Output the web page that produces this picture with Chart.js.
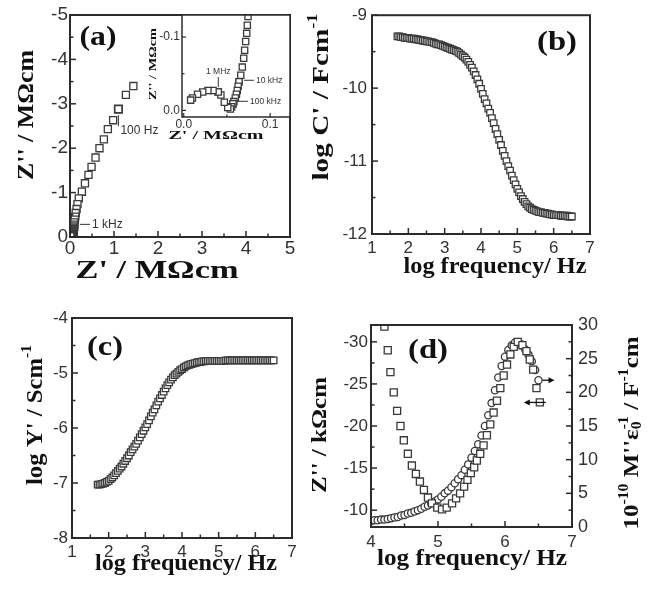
<!DOCTYPE html>
<html>
<head>
<meta charset="utf-8">
<title>Impedance spectra</title>
<script src="https://cdn.jsdelivr.net/npm/chart.js@4.4.1/dist/chart.umd.min.js"></script>
<style>
  body { margin: 0; background: #fff; }
  #fig { position: relative; width: 649px; height: 589px; overflow: hidden; }
  #fig canvas { position: absolute; left: 0; top: 0; }
</style>
</head>
<body>
<div id="fig">
  <canvas id="nyquist" width="649" height="589"></canvas>
  <canvas id="nyquistZoom" width="649" height="589"></canvas>
  <canvas id="capacitance" width="649" height="589"></canvas>
  <canvas id="admittance" width="649" height="589"></canvas>
  <canvas id="modulus" width="649" height="589"></canvas>
</div>
<script>
'use strict';

// (a) complex impedance, MOhm cm, lowest frequency first
let nyqRe = [1.44, 1.27, 1.10, 0.98, 0.86, 0.77, 0.67, 0.58, 0.49, 0.42, 0.34, 0.27, 0.20, 0.17, 0.15, 0.13, 0.12, 0.11, 0.10, 0.095,
  0.090, 0.086, 0.083, 0.080, 0.078, 0.076, 0.0744, 0.0736, 0.0729, 0.0717, 0.0705, 0.0694, 0.0678, 0.066, 0.064, 0.063, 0.062, 0.061,
  0.0597, 0.058, 0.057, 0.0555, 0.054, 0.051, 0.047, 0.043, 0.040, 0.034, 0.028, 0.022, 0.016, 0.010, 0.008];
let nyqIm = [-3.40, -3.20, -2.88, -2.63, -2.43, -2.20, -2.00, -1.79, -1.58, -1.40, -1.21, -1.02, -0.87, -0.74, -0.63, -0.54, -0.46, -0.39, -0.33, -0.28,
  -0.24, -0.21, -0.185, -0.165, -0.148, -0.138, -0.128, -0.116, -0.105, -0.094, -0.082, -0.071, -0.059, -0.048, -0.039, -0.033, -0.027, -0.022,
  -0.017, -0.012, -0.009, -0.005, -0.002, -0.004, -0.011, -0.021, -0.025, -0.027, -0.027, -0.025, -0.022, -0.017, -0.014];
// frequency markers: index into the arrays above
let mainMarks = [2, 20];
let mainMarkNames = ['100 Hz', '1 kHz'];
let zoomMarks = [34, 40, 46];
let zoomMarkNames = ['10 kHz', '100 kHz', '1 MHz'];

// (b) and (c) share the frequency grid, 20 points per decade
let logF = [1.70, 1.75, 1.80, 1.85, 1.90, 1.95, 2.00, 2.05, 2.10, 2.15, 2.20, 2.25, 2.30, 2.35, 2.40, 2.45, 2.50, 2.55, 2.60, 2.65,
  2.70, 2.75, 2.80, 2.85, 2.90, 2.95, 3.00, 3.05, 3.10, 3.15, 3.20, 3.25, 3.30, 3.35, 3.40, 3.45, 3.50, 3.55, 3.60, 3.65,
  3.70, 3.75, 3.80, 3.85, 3.90, 3.95, 4.00, 4.05, 4.10, 4.15, 4.20, 4.25, 4.30, 4.35, 4.40, 4.45, 4.50, 4.55, 4.60, 4.65,
  4.70, 4.75, 4.80, 4.85, 4.90, 4.95, 5.00, 5.05, 5.10, 5.15, 5.20, 5.25, 5.30, 5.35, 5.40, 5.45, 5.50, 5.55, 5.60, 5.65,
  5.70, 5.75, 5.80, 5.85, 5.90, 5.95, 6.00, 6.05, 6.10, 6.15, 6.20, 6.25, 6.30, 6.35, 6.40, 6.45, 6.50];
let logC = [-9.29, -9.29, -9.30, -9.30, -9.31, -9.31, -9.31, -9.32, -9.32, -9.32, -9.33, -9.33, -9.34, -9.34, -9.35, -9.35, -9.36, -9.36, -9.37, -9.37,
  -9.38, -9.39, -9.40, -9.40, -9.41, -9.42, -9.43, -9.44, -9.45, -9.46, -9.47, -9.48, -9.49, -9.50, -9.52, -9.54, -9.56, -9.58, -9.61, -9.64,
  -9.68, -9.72, -9.77, -9.82, -9.88, -9.94, -10.01, -10.08, -10.15, -10.21, -10.28, -10.34, -10.41, -10.48, -10.56, -10.63, -10.71, -10.78, -10.86, -10.93,
  -11.00, -11.07, -11.13, -11.20, -11.26, -11.32, -11.38, -11.43, -11.48, -11.52, -11.56, -11.59, -11.62, -11.64, -11.66, -11.67, -11.68, -11.69, -11.70, -11.70,
  -11.71, -11.71, -11.72, -11.72, -11.73, -11.73, -11.74, -11.74, -11.74, -11.74, -11.75, -11.75, -11.75, -11.75, -11.76, -11.76, -11.76];
let logY = [-7.03, -7.03, -7.02, -7.01, -7.00, -6.98, -6.96, -6.93, -6.90, -6.86, -6.82, -6.78, -6.74, -6.70, -6.65, -6.60, -6.55, -6.50, -6.44, -6.39,
  -6.34, -6.29, -6.23, -6.17, -6.11, -6.05, -5.99, -5.93, -5.86, -5.79, -5.72, -5.66, -5.59, -5.52, -5.46, -5.40, -5.34, -5.28, -5.22, -5.17,
  -5.12, -5.08, -5.04, -5.01, -4.98, -4.95, -4.93, -4.90, -4.88, -4.86, -4.85, -4.84, -4.83, -4.82, -4.81, -4.80, -4.80, -4.79, -4.79, -4.78,
  -4.78, -4.78, -4.78, -4.78, -4.78, -4.78, -4.78, -4.78, -4.78, -4.78, -4.77, -4.77, -4.77, -4.77, -4.77, -4.77, -4.77, -4.77, -4.77, -4.77,
  -4.77, -4.77, -4.77, -4.77, -4.77, -4.77, -4.77, -4.77, -4.77, -4.77, -4.77, -4.77, -4.77, -4.77, -4.77, -4.77, -4.77];

// (d) Z'' (kOhm cm) and M''/eps0 (1e-10 F^-1 cm)
let zLogF = [4.20, 4.25, 4.29, 4.34, 4.39, 4.44, 4.49, 4.55, 4.61, 4.67, 4.73, 4.79, 4.85, 4.91, 4.99, 5.06, 5.13, 5.21, 5.27, 5.33, 5.39,
  5.44, 5.49, 5.54, 5.58, 5.63, 5.68, 5.73, 5.78, 5.83, 5.88, 5.93, 5.98, 6.03, 6.08, 6.13, 6.19, 6.26, 6.32, 6.37, 6.42, 6.47, 6.52];
let zImag = [-31.8, -29.0, -26.4, -24.0, -21.8, -20.0, -18.3, -16.7, -15.3, -14.3, -13.4, -12.4, -11.5, -10.8, -10.3, -10.1, -10.3, -10.8,
  -11.4, -12.0, -12.8, -13.6, -14.4, -15.1, -15.9, -16.7, -17.7, -18.9, -20.2, -21.6, -23.0, -24.5, -26.0, -27.3, -28.5, -29.4, -30.0,
  -29.6, -28.9, -27.9, -26.7, -24.5, -22.8];
let mLogF = [4.00, 4.05, 4.10, 4.15, 4.20, 4.25, 4.30, 4.35, 4.40, 4.45, 4.50, 4.55, 4.60, 4.65, 4.70, 4.75, 4.80, 4.85, 4.90, 4.95, 5.00,
  5.05, 5.10, 5.15, 5.20, 5.25, 5.30, 5.35, 5.40, 5.45, 5.50, 5.55, 5.60, 5.65, 5.70, 5.75, 5.80, 5.85, 5.90, 5.95, 6.00, 6.05, 6.10,
  6.15, 6.20, 6.25, 6.30, 6.35, 6.40, 6.45, 6.50];
let mImag = [0.9, 1.0, 1.0, 1.1, 1.1, 1.2, 1.3, 1.4, 1.5, 1.7, 1.8, 2.0, 2.1, 2.3, 2.5, 2.7, 3.0, 3.2, 3.5, 3.8, 4.1, 4.5, 5.0, 5.4, 5.9,
  6.5, 7.1, 7.7, 8.5, 9.3, 10.3, 11.3, 12.3, 13.6, 15.0, 16.6, 18.4, 20.3, 22.2, 23.9, 25.3, 26.3, 27.0, 27.4, 27.4, 27.1, 26.4, 25.6,
  24.6, 23.3, 21.8];

// labelled ticks; a short tick is added halfway between each pair
let ticksA_x = [0, 1, 2, 3, 4, 5];
let ticksA_y = [-5, -4, -3, -2, -1, 0];
let ticksZoom_x = [0, 0.1];
let ticksZoom_y = [-0.1, 0];
let ticksF = [1, 2, 3, 4, 5, 6, 7];
let ticksB_y = [-12, -11, -10, -9];
let ticksC_y = [-8, -7, -6, -5, -4];
let ticksD_x = [4, 5, 6, 7];
let ticksD_y = [-30, -25, -20, -15, -10];
let ticksD_y2 = [0, 5, 10, 15, 20, 25, 30];

function pts(xs, ys) {
  return xs.map((x, i) => ({x: x, y: ys[i]}));
}
function pick(xs, ys, idx) {
  return idx.map(i => ({x: xs[i], y: ys[i]}));
}

function drawRich(ctx, t) {
  let fam = t.family || 'Liberation Serif';
  let weight = t.bold === false ? '' : 'bold ';
  ctx.save();
  ctx.translate(t.x, t.y);
  if (t.rot) ctx.rotate(t.rot);
  let total = 0;
  let runs = t.parts.map(p => {
    let small = p.sup || p.sub;
    let font = weight + (small ? Math.round(t.size * 0.62) : t.size) + 'px "' + fam + '"';
    ctx.font = font;
    let w = ctx.measureText(p.t).width;
    let adv = p.stay ? 0 : w;
    total += adv;
    return {t: p.t, font: font, adv: adv, dy: p.sup ? -t.size * 0.36 : (p.sub ? t.size * 0.26 : 0)};
  });
  if (t.w) ctx.scale(t.w / total, 1);
  ctx.fillStyle = t.color || '#111';
  ctx.textBaseline = 'middle';
  ctx.textAlign = 'left';
  let x = -total / 2;
  runs.forEach(r => {
    ctx.font = r.font;
    ctx.fillText(r.t, x, r.dy);
    x += r.adv;
  });
  ctx.restore();
}

// frame, inward ticks, frequency notes, axis arrows and titles
const figureBits = {
  id: 'figureBits',
  beforeDatasetsDraw(chart, args, o) {
    if (!o.blank) return;
    let a = chart.chartArea, ctx = chart.ctx;
    ctx.save();
    ctx.fillStyle = '#fff';
    ctx.fillRect(a.left, a.top, a.right - a.left, a.bottom - a.top);
    ctx.restore();
  },
  afterDraw(chart, args, o) {
    let ctx = chart.ctx, a = chart.chartArea;
    ctx.save();
    ctx.strokeStyle = '#2b2b2b';
    ctx.lineWidth = o.frame || 2;
    ctx.strokeRect(a.left, a.top, a.right - a.left, a.bottom - a.top);
    ctx.lineWidth = o.tickWidth || 1.5;
    Object.values(chart.scales).forEach(s => {
      s.ticks.forEach(t => {
        let len = t.big ? o.major : o.minor;
        let p = s.getPixelForValue(t.value);
        ctx.beginPath();
        if (s.position === 'bottom') {
          ctx.moveTo(p, a.bottom); ctx.lineTo(p, a.bottom - len);
        } else if (s.position === 'left') {
          ctx.moveTo(a.left, p); ctx.lineTo(a.left + len, p);
        } else {
          ctx.moveTo(a.right, p); ctx.lineTo(a.right - len, p);
        }
        ctx.stroke();
      });
    });

    ctx.strokeStyle = '#333';
    ctx.fillStyle = '#333';
    ctx.lineWidth = 1;
    (o.notes || []).forEach(n => {
      let el = chart.getDatasetMeta(n.ds).data[n.i];
      ctx.beginPath();
      ctx.moveTo(el.x + n.line[0], el.y + n.line[1]);
      ctx.lineTo(el.x + n.line[2], el.y + n.line[3]);
      ctx.stroke();
      ctx.font = n.size + 'px "Liberation Sans"';
      ctx.textAlign = n.align || 'left';
      ctx.textBaseline = 'middle';
      ctx.fillText(n.text, el.x + n.tx, el.y + n.ty);
    });

    ctx.strokeStyle = '#111';
    ctx.fillStyle = '#111';
    ctx.lineWidth = 1.3;
    (o.arrows || []).forEach(ar => {
      let el = chart.getDatasetMeta(ar.ds).data[ar.i];
      let x0 = el.x + ar.from, x1 = el.x + ar.to, y = el.y;
      let dir = Math.sign(ar.to - ar.from);
      ctx.beginPath();
      ctx.moveTo(x0, y); ctx.lineTo(x1 - dir * 4, y);
      ctx.stroke();
      ctx.beginPath();
      ctx.moveTo(x1, y); ctx.lineTo(x1 - dir * 6, y - 3); ctx.lineTo(x1 - dir * 6, y + 3);
      ctx.closePath();
      ctx.fill();
    });
    ctx.restore();

    (o.texts || []).forEach(t => drawRich(ctx, t));
  }
};
Chart.register(figureBits);

function axis(pos, min, max, major, size, fmt, fontSize, pad, reverse) {
  return {
    type: 'linear', position: pos, min: min, max: max, reverse: !!reverse,
    grid: {display: false, drawTicks: false},
    border: {display: false},
    afterBuildTicks: function (scale) {
      let list = major.map(v => ({value: v, big: true}));
      for (let i = 0; i < major.length - 1; i++) {
        list.push({value: (major[i] + major[i + 1]) / 2, big: false});
      }
      list.sort((p, q) => p.value - q.value);
      scale.ticks = list;
    },
    afterFit: function (scale) {
      if (scale.isHorizontal()) scale.height = size; else scale.width = size;
    },
    ticks: {
      autoSkip: false, maxRotation: 0, padding: pad, color: '#333',
      font: {family: 'Liberation Sans', size: fontSize},
      callback: (v, i, ticks) => ticks[i].big ? fmt(v) : ''
    }
  };
}

function squares(data, r, fill, yAxisID) {
  return {
    data: data, pointStyle: 'rect', pointRadius: r, pointBorderWidth: 1.3,
    pointBorderColor: '#3a3a3a', pointBackgroundColor: fill || '#fff', showLine: false, yAxisID: yAxisID || 'y'
  };
}

function makeChart(id, datasets, scales, padding, bits) {
  return new Chart(document.getElementById(id), {
    type: 'scatter',
    data: {datasets: datasets},
    options: {
      responsive: false, animation: false, events: [],
      layout: {padding: padding},
      plugins: {legend: {display: false}, tooltip: {enabled: false}, figureBits: bits},
      scales: scales
    }
  });
}

const whole = v => String(v);
const oneDec = v => v.toFixed(1);

// (a) Nyquist plot
makeChart('nyquist',
  [squares(pts(nyqRe, nyqIm), 5), squares(pick(nyqRe, nyqIm, mainMarks), 5.5, '#111')],
  {
    x: axis('bottom', 0, 5, ticksA_x, 352, whole, 19, 0),
    y: axis('left', -5, 0, ticksA_y, 70, whole, 19, 2, true)
  },
  {left: 0, top: 15, right: 359, bottom: 0},
  {
    frame: 2, major: 6, minor: 3.5,
    notes: [
      {ds: 1, i: 0, text: mainMarkNames[0], tx: 2, ty: 22, line: [0, 6, 0, 17], size: 12},
      {ds: 1, i: 1, text: mainMarkNames[1], tx: 18, ty: -2, line: [6, -2, 16, -2], size: 12}
    ],
    texts: [
      {parts: [{t: '(a)'}], x: 98, y: 38, size: 27, w: 37},
      {parts: [{t: "Z'' / MΩcm"}], x: 27, y: 115, size: 24, rot: -Math.PI / 2, w: 130},
      {parts: [{t: "Z' / MΩcm"}], x: 157, y: 272, size: 25, w: 163}
    ]
  });

// (a) inset, high-frequency arc
makeChart('nyquistZoom',
  [squares(pts(nyqRe, nyqIm), 4.4), squares(pick(nyqRe, nyqIm, zoomMarks), 4.4, '#222')],
  {
    x: axis('bottom', -0.002, 0.123, ticksZoom_x, 472, oneDec, 12, 0),
    y: axis('left', -0.13, 0.009, ticksZoom_y, 182, oneDec, 12, 2, true)
  },
  {left: 0, top: 15, right: 359, bottom: 0},
  {
    blank: true, frame: 1.5, major: 4, minor: 2.5, tickWidth: 1.2,
    notes: [
      {ds: 1, i: 0, text: zoomMarkNames[0], tx: 17, ty: -1.5, line: [5, -1.5, 15, -1.5], size: 8.5},
      {ds: 1, i: 1, text: zoomMarkNames[1], tx: 17, ty: -2.5, line: [4, -2.5, 15, -2.5], size: 8.5},
      {ds: 1, i: 2, text: zoomMarkNames[2], tx: 0, ty: -20, line: [0, -5, 0, -15], size: 8.5, align: 'center'}
    ],
    texts: [
      {parts: [{t: "Z' / MΩcm"}], x: 216, y: 136, size: 12, w: 95},
      {parts: [{t: "Z'' / MΩcm"}], x: 153, y: 64, size: 10, rot: -Math.PI / 2, w: 72}
    ]
  });

// (b) capacitance
makeChart('capacitance',
  [squares(pts(logF, logC), 4.6)],
  {
    x: axis('bottom', 1, 7, ticksF, 355, whole, 17, 4),
    y: axis('left', -12, -9, ticksB_y, 372, whole, 17, 5)
  },
  {left: 0, top: 15, right: 59, bottom: 0},
  {
    frame: 2, major: 6, minor: 3.5,
    texts: [
      {parts: [{t: '(b)'}], x: 557, y: 43, size: 27, w: 40},
      {parts: [{t: "log C' / Fcm"}, {t: '-1', sup: true}], x: 322, y: 97, size: 24, rot: -Math.PI / 2, w: 167},
      {parts: [{t: 'log frequency/ Hz'}], x: 495, y: 267, size: 24, w: 183}
    ]
  });

// (c) admittance
makeChart('admittance',
  [squares(pts(logF, logY), 4.6)],
  {
    x: axis('bottom', 1, 7, ticksF, 51, whole, 17, 4),
    y: axis('left', -8, -4, ticksC_y, 72, whole, 17, 4)
  },
  {left: 0, top: 318, right: 357, bottom: 0},
  {
    frame: 2, major: 6, minor: 3.5,
    texts: [
      {parts: [{t: '(c)'}], x: 105, y: 348, size: 27, w: 36},
      {parts: [{t: "log Y' / Scm"}, {t: '-1', sup: true}], x: 36, y: 415, size: 24, rot: -Math.PI / 2, w: 140},
      {parts: [{t: 'log frequency/ Hz'}], x: 186, y: 564, size: 24, w: 182}
    ]
  });

// (d) Z'' and M'' peaks
makeChart('modulus',
  [
    squares(pts(zLogF, zImag), 5),
    {
      data: pts(mLogF, mImag), pointStyle: 'circle', pointRadius: 3.6, pointBorderWidth: 1.3,
      pointBorderColor: '#3a3a3a', pointBackgroundColor: '#fff', showLine: false, yAxisID: 'y2'
    }
  ],
  {
    x: axis('bottom', 4, 7, ticksD_x, 62, whole, 17, 5),
    y: axis('left', -32, -8, ticksD_y, 371, whole, 17, 3, true),
    y2: axis('right', 0, 30, ticksD_y2, 77, whole, 18, 6)
  },
  {left: 0, top: 325, right: 0, bottom: 0},
  {
    frame: 2, major: 6, minor: 3.5,
    arrows: [
      {ds: 1, i: mLogF.length - 1, from: 4, to: 16},
      {ds: 0, i: zLogF.length - 1, from: 6, to: -16}
    ],
    texts: [
      {parts: [{t: '(d)'}], x: 428, y: 351, size: 27, w: 40},
      {parts: [{t: "Z'' / kΩcm"}], x: 320, y: 435, size: 22, rot: -Math.PI / 2, w: 116},
      {parts: [{t: '10'}, {t: '-10', sup: true}, {t: " M''ε"}, {t: '0', sub: true, stay: true}, {t: '-1', sup: true},
        {t: ' / F'}, {t: '-1', sup: true}, {t: 'cm'}], x: 632, y: 433, size: 22, rot: -Math.PI / 2, w: 193},
      {parts: [{t: 'log frequency/ Hz'}], x: 472, y: 559, size: 24, w: 190}
    ]
  });
</script>
</body>
</html>
